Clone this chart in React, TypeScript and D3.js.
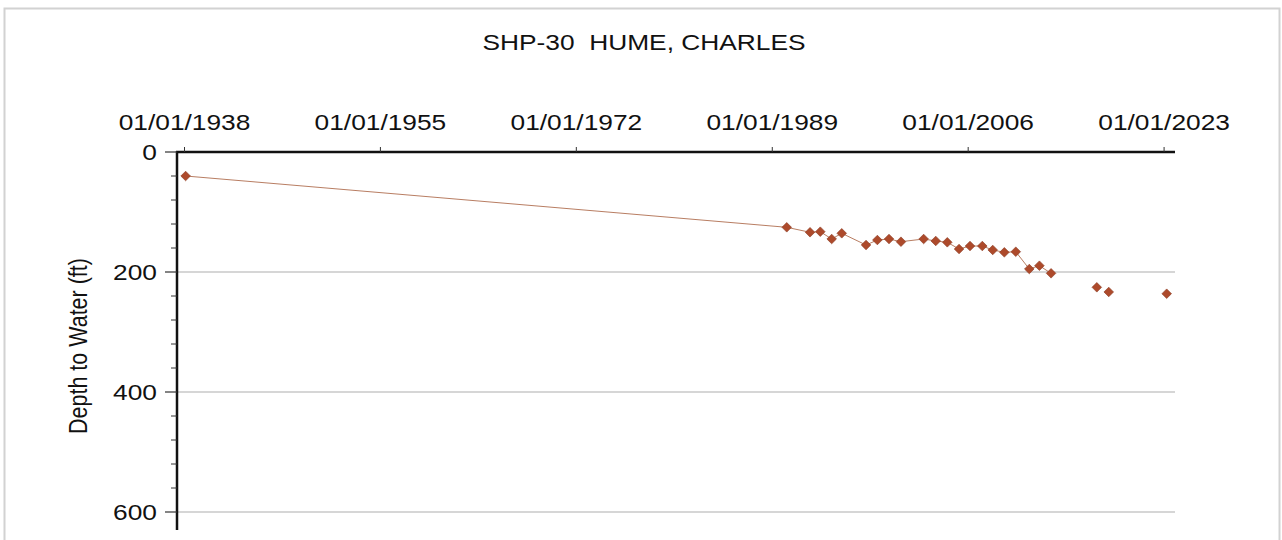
import React from "react";
import * as d3 from "d3";

const title = "SHP-30  HUME, CHARLES";
const yAxisLabel = "Depth to Water (ft)";

// Joined measurements (drawn with connecting line)
const joinedDates = [
  "1938-02-05", "1990-04-05", "1992-04-12", "1993-03-03", "1994-02-27", "1995-01-12",
  "1997-02-20", "1998-02-14", "1999-02-18", "2000-03-03", "2002-02-20", "2003-03-10",
  "2004-03-10", "2005-03-18", "2006-02-28", "2007-03-25", "2008-02-18", "2009-02-20",
  "2010-02-18", "2011-04-22", "2012-03-08", "2013-03-12",
];
const joinedDepths = [
  40, 125.5, 133.8, 132.8, 145, 135.5,
  155, 146.7, 145, 149.5, 145, 148.3,
  150.5, 161.7, 156.7, 156.7, 163.3, 167.2,
  166.2, 195, 189.5, 202.2,
];

// Isolated measurements (markers only)
const isolatedDates = ["2017-03-01", "2018-03-14", "2023-03-25"];
const isolatedDepths = [225.5, 233.3, 236.2];

const xTickDates = ["1938-01-01", "1955-01-01", "1972-01-01", "1989-01-01", "2006-01-01", "2023-01-01"];
const xTickLabels = ["01/01/1938", "01/01/1955", "01/01/1972", "01/01/1989", "01/01/2006", "01/01/2023"];
const yMajorTicks = [0, 200, 400, 600];
const yMinorStep = 40;

const W = 1282;
const H = 540;
const SX = 1.17; // horizontal stretch of the text in the reference
const FONT = "Arial, 'Liberation Sans', sans-serif";

export default function App() {
  const parse = d3.timeParse("%Y-%m-%d");
  const x = d3
    .scaleTime()
    .domain([new Date(1937, 4, 8), new Date(2023, 11, 13)])
    .range([177, 1175]);
  const y = d3.scaleLinear().domain([0, 630]).range([152, 530]);

  const joined = joinedDates.map((d, i) => ({ date: parse(d) as Date, v: joinedDepths[i] }));
  const isolated = isolatedDates.map((d, i) => ({ date: parse(d) as Date, v: isolatedDepths[i] }));

  const line = d3
    .line<{ date: Date; v: number }>()
    .x((d) => x(d.date))
    .y((d) => y(d.v));

  const diamond = d3.symbol().type(d3.symbolSquare).size(46)() as string;

  const minorTicks = d3.range(0, 630 + 1, yMinorStep).filter((v) => v % 200 !== 0);
  const [x0, x1] = x.range();
  const [y0, y1] = y.range();

  const stretched = (cx: number, cy: number) => `translate(${cx},${cy}) scale(${SX},1)`;

  return (
    <svg
      width={W}
      height={H}
      style={{ position: "absolute", left: 0, top: 0, background: "#fff" }}
      fontFamily={FONT}
    >
      <rect x={4.5} y={8.5} width={1275} height={560} fill="#fff" stroke="#d2d2d2" strokeWidth={2} />

      {/* title */}
      <text
        transform={stretched(644, 50)}
        textAnchor="middle"
        fontSize={22.5}
        fill="#111"
        style={{ whiteSpace: "pre" }}
        xmlSpace="preserve"
      >
        {title}
      </text>

      {/* gridlines */}
      {yMajorTicks
        .filter((v) => v > 0)
        .map((v) => (
          <line key={"g" + v} x1={x0} x2={x1} y1={y(v)} y2={y(v)} stroke="#d6d6d6" strokeWidth={2} />
        ))}

      {/* top axis */}
      <line x1={x0 - 1} x2={x1} y1={y0} y2={y0} stroke="#111" strokeWidth={2.5} />
      {xTickDates.map((d, i) => {
        const px = x(parse(d) as Date);
        return (
          <g key={"xt" + i}>
            <line x1={px} x2={px} y1={y0 - 5} y2={y0} stroke="#333" strokeWidth={1} />
            <text transform={stretched(px, 129.5)} textAnchor="middle" fontSize={22.5} fill="#111">
              {xTickLabels[i]}
            </text>
          </g>
        );
      })}

      {/* left axis */}
      <line x1={x0} x2={x0} y1={y0 - 1} y2={y1} stroke="#111" strokeWidth={2.5} />
      {yMajorTicks.map((v) => (
        <g key={"yt" + v}>
          <line x1={x0 - 12} x2={x0} y1={y(v)} y2={y(v)} stroke="#333" strokeWidth={1.2} />
          <text transform={stretched(157, y(v) + 8)} textAnchor="end" fontSize={22.5} fill="#111">
            {v}
          </text>
        </g>
      ))}
      {minorTicks.map((v) => (
        <line key={"ym" + v} x1={x0 - 6} x2={x0} y1={y(v)} y2={y(v)} stroke="#333" strokeWidth={1} />
      ))}

      <text
        transform={`translate(86.5,346) rotate(-90) scale(1,${SX})`}
        textAnchor="middle"
        fontSize={21.5}
        fill="#111"
      >
        {yAxisLabel}
      </text>

      {/* data line */}
      <path d={line(joined) as string} fill="none" stroke="#a0522d" strokeOpacity={0.75} strokeWidth={1} />

      {/* markers */}
      {joined.concat(isolated).map((d, i) => (
        <path
          key={"m" + i}
          d={diamond}
          transform={`translate(${x(d.date)},${y(d.v)}) rotate(45)`}
          fill="#ad4a2b"
          stroke="#8b3a22"
          strokeWidth={0.6}
        />
      ))}
    </svg>
  );
}
